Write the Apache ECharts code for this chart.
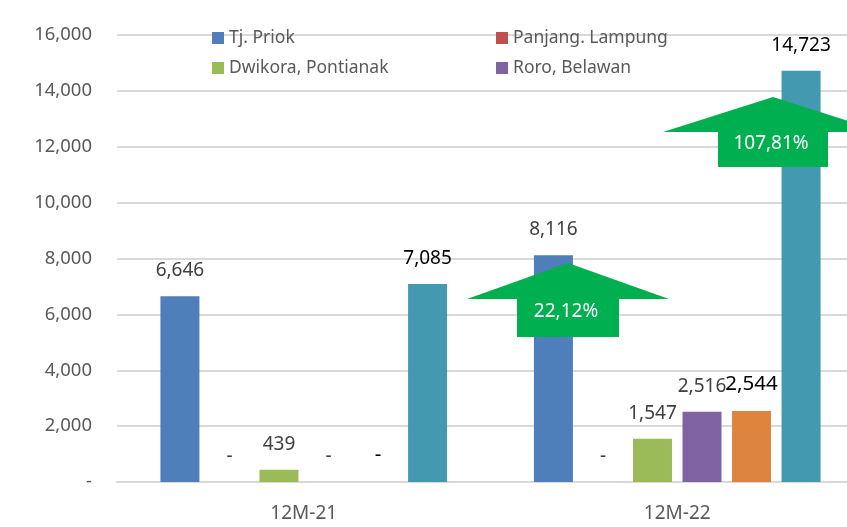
<!DOCTYPE html>
<html>
<head>
<meta charset="utf-8">
<script src="https://cdn.jsdelivr.net/npm/echarts@6/dist/echarts.min.js"></script>
<style>
  html, body { margin: 0; padding: 0; background: #fff; overflow: hidden; }
  /* plot area runs past the right edge of the window, as in the original */
  #chart { width: 864px; height: 527px; }
</style>
</head>
<body>
<div id="chart"></div>
<script>
const categories = ['12M-21', '12M-22']
const tjPriok = [6646, 8116]
const panjangLampung = [0, 0]
const dwikoraPontianak = [439, 1547]
const roroBelawan = [0, 2516]
const lainnya = [0, 2544]
const total = [7085, 14723]
const growthLabels = ['22,12%', '107,81%']
const yMax = 16000
const yInterval = 2000

const FONT = '"Noto Sans", "DejaVu Sans", sans-serif'
const fmt = (v) => (v === 0 ? '-' : v.toLocaleString('en-US'))

const makeBar = (name, data, color, labelColor, labelSize) => ({
  name,
  type: 'bar',
  data,
  barWidth: 39,
  barGap: '27%',
  itemStyle: { color },
  label: {
    show: true,
    position: 'top',
    distance: 16,
    formatter: ({ value }) => fmt(value),
    color: labelColor,
    fontFamily: FONT,
    fontSize: labelSize
  }
})

// green growth arrows (annotation shapes, pixel space)
const arrow = (tipX, tipY, wing, shaftHalf, wingY, bottomY, text) => ({
  type: 'group',
  children: [
    {
      type: 'polygon',
      shape: {
        points: [
          [tipX, tipY],
          [tipX + wing, wingY],
          [tipX + shaftHalf, wingY],
          [tipX + shaftHalf, bottomY],
          [tipX - shaftHalf, bottomY],
          [tipX - shaftHalf, wingY],
          [tipX - wing, wingY]
        ]
      },
      style: { fill: '#00b050' },
      z: 100
    },
    {
      type: 'text',
      x: tipX - 2,
      y: (wingY + bottomY) / 2 - 6,
      style: {
        text,
        fill: '#fff',
        font: '19px ' + FONT,
        align: 'center',
        verticalAlign: 'middle'
      },
      z: 101
    }
  ]
})

const legendBase = {
  orient: 'vertical',
  top: 24,
  itemWidth: 12,
  itemHeight: 12,
  itemGap: 12,
  icon: 'rect',
  textStyle: { color: '#595959', fontFamily: FONT, fontSize: 17.5 }
}

const chart = echarts.init(document.getElementById('chart'))
chart.setOption({
  animation: false,
  backgroundColor: '#fff',
  grid: { left: 117, top: 35, bottom: 45, right: 0 },
  legend: [
    { ...legendBase, data: ['Tj. Priok', 'Dwikora, Pontianak'], left: 207 },
    { ...legendBase, data: ['Panjang. Lampung', 'Roro, Belawan'], left: 491 }
  ],
  xAxis: {
    type: 'category',
    data: categories,
    axisTick: { show: false },
    axisLine: { lineStyle: { color: '#d9d9d9', width: 2 } },
    axisLabel: { color: '#595959', fontFamily: FONT, fontSize: 19, margin: 22 }
  },
  yAxis: {
    type: 'value',
    min: 0,
    max: yMax,
    interval: yInterval,
    axisLine: { show: false },
    axisTick: { show: false },
    axisLabel: { color: '#595959', fontFamily: FONT, fontSize: 18.5, margin: 25, formatter: fmt },
    splitLine: { lineStyle: { color: '#d9d9d9', width: 2 } }
  },
  series: [
    makeBar('Tj. Priok', tjPriok, '#4f7fbb', '#404040', 19),
    makeBar('Panjang. Lampung', panjangLampung, '#c0504d', '#404040', 19),
    makeBar('Dwikora, Pontianak', dwikoraPontianak, '#9bbb59', '#404040', 19),
    makeBar('Roro, Belawan', roroBelawan, '#7f62a1', '#404040', 19),
    makeBar('Lainnya', lainnya, '#dd843f', '#000', 20.5),
    makeBar('Total', total, '#4399b0', '#000', 19)
  ],
  graphic: [
    arrow(568, 263, 101, 51, 299, 337, growthLabels[0]),
    arrow(773, 97, 110, 55, 132, 167, growthLabels[1])
  ]
})
</script>
</body>
</html>
